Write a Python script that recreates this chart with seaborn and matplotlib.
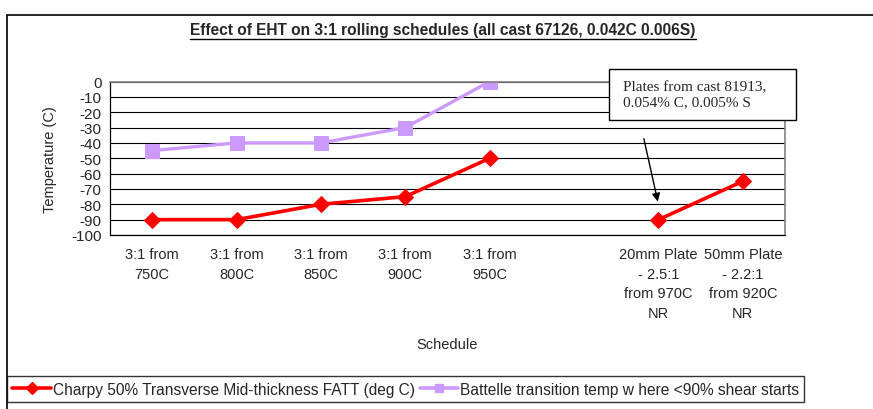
import numpy as np
import pandas as pd
import matplotlib
matplotlib.use('Agg')
import matplotlib.pyplot as plt
import seaborn as sns
from matplotlib.lines import Line2D
from matplotlib.patches import Rectangle

schedules = ['3:1 from\n750C', '3:1 from\n800C', '3:1 from\n850C', '3:1 from\n900C',
             '3:1 from\n950C', '',
             '20mm Plate\n- 2.5:1\nfrom 970C\nNR', '50mm Plate\n- 2.2:1\nfrom 920C\nNR']
charpy = [-90, -90, -80, -75, -50, np.nan, -90, -65]
battelle = [-45, -40, -40, -30, 0, np.nan, np.nan, np.nan]
charpy_name = 'Charpy 50% Transverse Mid-thickness FATT (deg C)'
battelle_name = 'Battelle transition temp w here <90% shear starts'

# long form, a segment id breaks the line at the empty schedule
rows = []
for name, vals in [(charpy_name, charpy), (battelle_name, battelle)]:
    seg = 0
    for i, v in enumerate(vals):
        if np.isnan(v):
            seg += 1
            continue
        rows.append({'pos': i, 'temp': v, 'series': name, 'seg': f'{name}-{seg}'})
df = pd.DataFrame(rows)

sns.set_style('white')
plt.rcParams['font.family'] = ['Liberation Sans', 'DejaVu Sans']
plt.rcParams['axes.unicode_minus'] = False

W, H = 873, 410
fig = plt.figure(figsize=(W / 100, H / 100), dpi=100)
ax = fig.add_axes([110 / W, 1 - 236 / H, 675 / W, 153.5 / H])

red = '#FF0000'
lav = '#CC99FF'
sns.lineplot(data=df[df.series == battelle_name], x='pos', y='temp', units='seg', estimator=None,
             color=lav, lw=2.4, marker='s', ms=10.5, mec=lav, legend=False, ax=ax)
sns.lineplot(data=df[df.series == charpy_name], x='pos', y='temp', units='seg', estimator=None,
             color=red, lw=2.6, marker='D', ms=8.5, mec=red, legend=False, ax=ax)

ax.set_xlim(-0.5, len(schedules) - 0.5)
ax.set_ylim(-100, 0)
ax.set_yticks(range(-100, 1, 10))
ax.set_xticks(range(len(schedules)))
ax.set_xticklabels(schedules, fontsize=10.5, linespacing=1.5)
ax.set_xticks(np.arange(-0.5, len(schedules), 1), minor=True)
ax.tick_params(axis='x', which='major', length=0, pad=9)
ax.tick_params(axis='x', which='minor', length=5, direction='out', color='black', width=0.8)
ax.tick_params(axis='y', length=4, direction='out', color='black', width=0.8, labelsize=11, pad=2)
ax.yaxis.grid(True, color='black', lw=0.8)
ax.set_axisbelow(True)
for s in ['left', 'bottom']:
    ax.spines[s].set_color('black')
    ax.spines[s].set_linewidth(0.9)
for s in ['top', 'right']:
    ax.spines[s].set_color('#808080')
    ax.spines[s].set_linewidth(1.2)
ax.set_xlabel('Schedule', fontsize=10.5, labelpad=12)
ax.set_ylabel('Temperature (C)', fontsize=10.5, labelpad=10)

# callout box and arrow
fig.patches.append(Rectangle((609 / W, 1 - 121 / H), 187 / W, 51 / H, transform=fig.transFigure,
                             facecolor='white', edgecolor='black', lw=1, zorder=5))
fig.text(623 / W, 1 - 95 / H, 'Plates from cast 81913,\n0.054% C, 0.005% S', family='Liberation Serif',
         fontsize=11, va='center', ha='left', linespacing=1.25, zorder=6)
ax.annotate('', xy=(6.0, -80), xytext=(5.82, -35.5),
            arrowprops=dict(arrowstyle='-|>', color='black', lw=1, mutation_scale=12))

# title with underline
t = fig.text(443 / W, 1 - 31 / H, 'Effect of EHT on 3:1 rolling schedules (all cast 67126, 0.042C 0.006S)',
             fontsize=11.2, fontweight='bold', ha='center', va='center')
fig.canvas.draw()
bb = t.get_window_extent()
fig.add_artist(Line2D([bb.x0 / W, bb.x1 / W], [(bb.y0 - 1) / H, (bb.y0 - 1) / H],
                      transform=fig.transFigure, color='black', lw=1))

# chart area border (cropped at right and bottom)
fig.patches.append(Rectangle((7 / W, -0.1), 1.2, 1.1 - 16 / H, transform=fig.transFigure,
                             fill=False, edgecolor='black', lw=1.2))

handles = [Line2D([], [], color=red, lw=2.6, marker='D', ms=6),
           Line2D([], [], color=lav, lw=2.6, marker='s', ms=6)]
leg = fig.legend(handles, [charpy_name, battelle_name], loc='lower left',
                 bbox_to_anchor=(7 / W, 1 - 403 / H), ncol=2, fontsize=11.2,
                 frameon=True, fancybox=False, edgecolor='black', borderaxespad=0,
                 handlelength=2.5, handletextpad=0.1, columnspacing=0.3, borderpad=0.35)
leg.get_frame().set_linewidth(1)

fig.savefig('out.png', dpi=100)
